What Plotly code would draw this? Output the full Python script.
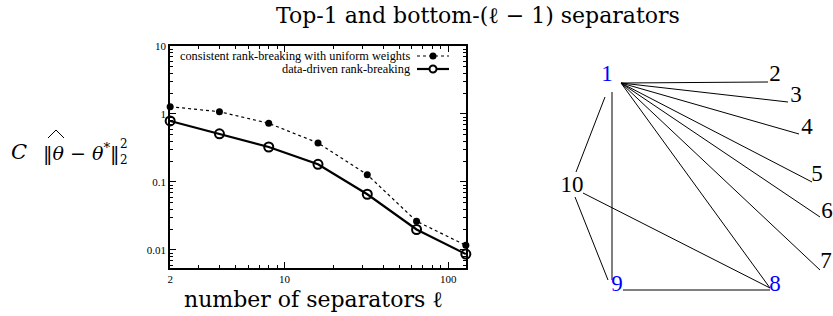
import plotly.graph_objects as go
import numpy as np

W, H = 833, 316
SERIF = "Liberation Serif, Times New Roman, serif"
CM = "DejaVu Serif, serif"

# ---- data: left plot ----
separators = [2, 4, 8, 16, 32, 64, 128]
uniform_weights = [1.28, 1.08, 0.73, 0.375, 0.128, 0.0264, 0.0117]
data_driven = [0.79, 0.51, 0.327, 0.182, 0.066, 0.020, 0.0087]
x_tickvals = [2, 10, 100]
x_ticktext = ["2", "10", "100"]
y_tickvals = [0.01, 0.1, 1, 10]
y_ticktext = ["0.01", "0.1", "1", "10"]
legend_names = ["consistent rank-breaking with uniform weights", "data-driven rank-breaking"]

# ---- data: right diagram (node labels and edges) ----
node_labels = ["1", "2", "3", "4", "5", "6", "7", "8", "9", "10"]
node_x = [607, 775, 796, 807, 817, 827, 826, 775, 617, 572]
node_y = [75, 75, 96, 128, 175, 212, 262, 285, 285, 186]
node_colors = ["#0000ff", "black", "black", "black", "black", "black", "black",
               "#0000ff", "#0000ff", "black"]
edge_x0 = [621, 621, 621, 621, 621, 621, 621, 612, 605, 575, 583, 623]
edge_y0 = [83, 83, 83, 83, 83, 83, 83, 92, 97, 197, 193, 290]
edge_x1 = [768, 788, 799, 812, 820, 820, 770, 612, 576, 608, 770, 770]
edge_y1 = [82, 102, 134, 182, 217, 270, 288, 280, 172, 280, 288, 290]

fig = go.Figure()

fig.add_trace(go.Scatter(
    x=separators, y=uniform_weights, mode="lines+markers",
    line=dict(color="black", width=1.2, dash="dot"),
    marker=dict(symbol="circle", size=7, color="black"),
    name=legend_names[0], showlegend=False, cliponaxis=False, xaxis="x", yaxis="y"))
fig.add_trace(go.Scatter(
    x=separators, y=data_driven, mode="lines+markers",
    line=dict(color="black", width=2.2),
    marker=dict(symbol="circle-open", size=9, color="black", line=dict(width=2)),
    name=legend_names[1], showlegend=False, cliponaxis=False, xaxis="x", yaxis="y"))

# diagram edges
ex, ey = [], []
for a, b, c, d in zip(edge_x0, edge_y0, edge_x1, edge_y1):
    ex += [a, c, None]
    ey += [b, d, None]
fig.add_trace(go.Scatter(x=ex, y=ey, mode="lines", line=dict(color="black", width=1),
                         showlegend=False, xaxis="x2", yaxis="y2", hoverinfo="skip",
                         cliponaxis=False))
fig.add_trace(go.Scatter(x=node_x, y=node_y, mode="text", text=node_labels,
                         textfont=dict(family=SERIF, size=23, color=node_colors),
                         textposition="middle center", cliponaxis=False,
                         showlegend=False, xaxis="x2", yaxis="y2"))

x_minor = [k * 10 ** e for e in range(0, 3) for k in range(2, 10) if 2 < k * 10 ** e < 128]
y_minor = [k * 10 ** e for e in range(-3, 1) for k in range(2, 10) if 0.0054 < k * 10 ** e < 10]

axis_common = dict(showline=True, linecolor="black", linewidth=1.5, mirror="allticks",
                   ticks="inside", ticklen=6, tickwidth=1, tickcolor="black",
                   showgrid=False, zeroline=False, automargin=False,
                   tickfont=dict(family=SERIF, size=11, color="black"))

eps = 0.001
fig.update_layout(
    width=W, height=H, margin=dict(l=0, r=0, t=0, b=0, autoexpand=False),
    paper_bgcolor="white", plot_bgcolor="white",
    xaxis=dict(type="log", domain=[170 / W, 466 / W],
               range=[np.log10(2) - eps, np.log10(128) + eps],
               tickvals=x_tickvals, ticktext=x_ticktext,
               minor=dict(tickvals=x_minor, ticks="inside", ticklen=3, tickcolor="black"),
               **axis_common),
    yaxis=dict(type="log", domain=[1 - 268 / H, 1 - 46 / H],
               range=[np.log10(0.00543), 1],
               tickvals=y_tickvals, ticktext=y_ticktext,
               minor=dict(tickvals=y_minor, ticks="inside", ticklen=3, tickcolor="black"),
               **axis_common),
    xaxis2=dict(domain=[530 / W, 1], range=[530, 833], visible=False, anchor="y2"),
    yaxis2=dict(domain=[0, 1], range=[316, 0], visible=False, anchor="x2"),
    font=dict(family=SERIF, color="black"),
)


def px(x):
    return x / W


def py(y):
    return 1 - y / H


annotations = [
    dict(text="Top-1 and bottom-(ℓ − 1) separators", x=px(478), y=py(15),
         xref="paper", yref="paper", showarrow=False, xanchor="center", yanchor="middle",
         font=dict(family=CM, size=22, color="black")),
    dict(text="number of separators ℓ", x=px(313), y=py(299),
         xref="paper", yref="paper", showarrow=False, xanchor="center", yanchor="middle",
         font=dict(family=CM, size=22, color="black")),
    dict(text="<i>C</i>", x=px(9), y=py(152),
         xref="paper", yref="paper", showarrow=False, xanchor="left", yanchor="middle",
         font=dict(family=CM, size=21, color="black")),
    dict(text="‖<i>θ</i> − <i>θ</i><sup>*</sup>‖",
         x=px(41), y=py(152),
         xref="paper", yref="paper", showarrow=False, xanchor="left", yanchor="middle",
         font=dict(family=CM, size=19, color="black")),
    dict(text="2", x=px(118), y=py(144), xref="paper", yref="paper", showarrow=False,
         xanchor="left", yanchor="middle", font=dict(family=CM, size=12, color="black")),
    dict(text="2", x=px(118), y=py(160), xref="paper", yref="paper", showarrow=False,
         xanchor="left", yanchor="middle", font=dict(family=CM, size=12, color="black")),
    dict(text=legend_names[0], x=px(412), y=py(56), xref="paper", yref="paper",
         showarrow=False, xanchor="right", yanchor="middle",
         font=dict(family=SERIF, size=12.3, color="black")),
    dict(text=legend_names[1], x=px(412), y=py(69), xref="paper", yref="paper",
         showarrow=False, xanchor="right", yanchor="middle",
         font=dict(family=SERIF, size=12.3, color="black")),
]
shapes = [
    dict(type="path", xref="paper", yref="paper",
         path=f"M {px(48)} {py(138)} L {px(56)} {py(130)} L {px(64)} {py(138)}",
         line=dict(color="black", width=1)),
    dict(type="line", xref="paper", yref="paper", x0=px(417), x1=px(449),
         y0=py(56), y1=py(56), line=dict(color="black", width=1.2, dash="dot")),
    dict(type="circle", xref="paper", yref="paper", xsizemode="pixel", ysizemode="pixel",
         xanchor=px(433), yanchor=py(56), x0=-3.5, x1=3.5, y0=-3.5, y1=3.5,
         fillcolor="black", line=dict(color="black", width=0)),
    dict(type="line", xref="paper", yref="paper", x0=px(417), x1=px(449),
         y0=py(69), y1=py(69), line=dict(color="black", width=2.2)),
    dict(type="circle", xref="paper", yref="paper", xsizemode="pixel", ysizemode="pixel",
         xanchor=px(433), yanchor=py(69), x0=-3.5, x1=3.5, y0=-3.5, y1=3.5,
         fillcolor="white", line=dict(color="black", width=2)),
]
fig.update_layout(annotations=annotations, shapes=shapes)

fig.write_html("out.html", config={"displayModeBar": False},
               post_script="document.body.style.margin='0';document.body.style.padding='0';")
